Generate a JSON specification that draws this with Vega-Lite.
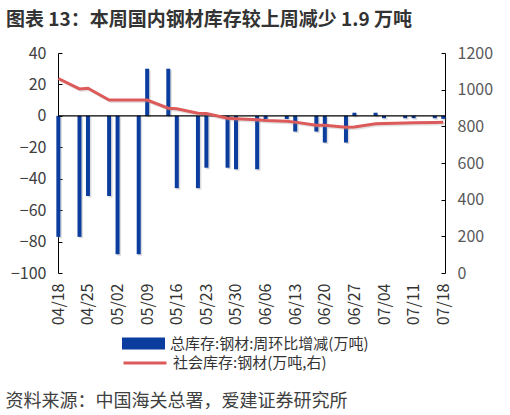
{
  "$schema": "https://vega.github.io/schema/vega-lite/v6.json",
  "width": 387,
  "height": 220,
  "autosize": "none",
  "padding": {"left": 58, "top": 53, "right": 65, "bottom": 142},
  "background": "white",
  "config": {
    "view": {"stroke": null},
    "font": "Noto Sans CJK SC",
    "axis": {"labelOverlap": false, "labelFlush": false, "grid": false, "labelFont": "Noto Sans CJK SC", "titleFont": "Noto Sans CJK SC"},
    "axisX": {"labelAngle": -90, "labelAlign": "right", "labelBaseline": "middle", "labelPadding": 10,
      "ticks": false, "domain": false, "labelFontSize": 16, "labelColor": "#333333",
      "titleX": -53, "titleY": 128, "titleAlign": "left", "titleAnchor": "start", "titleBaseline": "middle",
      "titleFontSize": 18, "titleFontWeight": "normal", "titleColor": "#404040"},
    "axisY": {"tickSize": -4, "labelPadding": 16, "domainColor": "#000000", "tickColor": "#000000", "labelFontSize": 16, "labelOverlap": false}
  },
  "title": {
    "text": "图表 13：本周国内钢材库存较上周减少 1.9 万吨",
    "anchor": "start",
    "frame": "group",
    "dx": -52,
    "offset": -4,
    "baseline": "bottom",
    "fontSize": 19,
    "fontWeight": "bold",
    "font": "Noto Sans CJK SC",
    "color": "#333333"
  },
  "data": {
    "values": [
      {"date": "2025-04-18", "change": -77, "stock": 1061},
      {"date": "2025-04-23", "change": -77, "stock": 1004},
      {"date": "2025-04-25", "change": -51, "stock": 1008},
      {"date": "2025-04-30", "change": -51, "stock": 943},
      {"date": "2025-05-02", "change": -88, "stock": 943},
      {"date": "2025-05-07", "change": -88, "stock": 943},
      {"date": "2025-05-09", "change": 30, "stock": 943},
      {"date": "2025-05-14", "change": 30, "stock": 899},
      {"date": "2025-05-16", "change": -46, "stock": 896},
      {"date": "2025-05-21", "change": -46, "stock": 872},
      {"date": "2025-05-23", "change": -33, "stock": 870},
      {"date": "2025-05-28", "change": -33, "stock": 844},
      {"date": "2025-05-30", "change": -34, "stock": 842},
      {"date": "2025-06-04", "change": -34, "stock": 836},
      {"date": "2025-06-06", "change": -2, "stock": 832},
      {"date": "2025-06-11", "change": -2, "stock": 828},
      {"date": "2025-06-13", "change": -10, "stock": 823},
      {"date": "2025-06-18", "change": -10, "stock": 806},
      {"date": "2025-06-20", "change": -17, "stock": 806},
      {"date": "2025-06-25", "change": -17, "stock": 795},
      {"date": "2025-06-27", "change": 2, "stock": 796},
      {"date": "2025-07-02", "change": 2, "stock": 814},
      {"date": "2025-07-04", "change": -1.5, "stock": 815},
      {"date": "2025-07-09", "change": -1.5, "stock": 818},
      {"date": "2025-07-11", "change": -1.5, "stock": 819},
      {"date": "2025-07-16", "change": -1.5, "stock": 821},
      {"date": "2025-07-18", "change": -1.9, "stock": 822}
    ]
  },
  "layer": [
    {
      "layer": [
        {
          "mark": {"type": "bar", "size": 4, "color": "#8a8a8a", "opacity": 0.3, "xOffset": 1.5, "yOffset": 1.5},
          "encoding": {
            "x": {"field": "date", "type": "temporal",
              "scale": {"type": "utc", "padding": 0, "domain": [{"year": 2025, "month": 4, "date": 17, "hours": 22, "utc": true}, {"year": 2025, "month": 7, "date": 18, "hours": 10, "utc": true}]},
              "axis": {"values": [1744934400000, 1745539200000, 1746144000000, 1746748800000, 1747353600000, 1747958400000, 1748563200000, 1749168000000, 1749772800000, 1750377600000, 1750982400000, 1751587200000, 1752192000000, 1752796800000],
                "format": "%m/%d", "title": "资料来源：中国海关总署，爱建证券研究所"}},
            "y": {"field": "change", "type": "quantitative", "scale": {"domain": [-100, 40], "nice": false, "zero": true},
              "axis": {"title": null, "values": [-100, -80, -60, -40, -20, 0, 20, 40], "labelColor": "#404040", "labelOverlap": false}}
          }
        },
        {
          "mark": {"type": "bar", "size": 4},
          "encoding": {
            "x": {"field": "date", "type": "temporal",
              "scale": {"type": "utc", "padding": 0, "domain": [{"year": 2025, "month": 4, "date": 17, "hours": 22, "utc": true}, {"year": 2025, "month": 7, "date": 18, "hours": 10, "utc": true}]},
              "axis": {"values": [1744934400000, 1745539200000, 1746144000000, 1746748800000, 1747353600000, 1747958400000, 1748563200000, 1749168000000, 1749772800000, 1750377600000, 1750982400000, 1751587200000, 1752192000000, 1752796800000],
                "format": "%m/%d", "title": "资料来源：中国海关总署，爱建证券研究所"}},
            "y": {"field": "change", "type": "quantitative", "scale": {"domain": [-100, 40], "nice": false, "zero": true},
              "axis": {"title": null, "values": [-100, -80, -60, -40, -20, 0, 20, 40], "labelColor": "#404040", "labelOverlap": false}},
            "color": {"datum": "总库存:钢材:周环比增减(万吨)", "scale": {"range": ["#0b3d9e"]},
              "legend": {"orient": "none", "legendX": 64, "legendY": 269, "title": null, "padding": 0,
                "symbolType": "M-1,-0.28H1V0.28H-1Z", "symbolSize": 1849, "symbolStrokeWidth": 0,
                "labelFontSize": 15, "labelColor": "#333333", "labelFont": "Noto Sans CJK SC", "labelOffset": 5, "labelLimit": 400}}
          }
        },
        {
          "data": {"values": [{"v": 0}]},
          "mark": {"type": "rule", "color": "#000000", "strokeWidth": 1.2},
          "encoding": {"y": {"field": "v", "type": "quantitative",
            "axis": {"title": null, "values": [-100, -80, -60, -40, -20, 0, 20, 40], "labelColor": "#404040", "labelOverlap": false}}}
        }
      ]
    },
    {
      "layer": [
        {
          "mark": {"type": "line", "strokeWidth": 3, "color": "#8a8a8a", "opacity": 0.25, "xOffset": 1.5, "yOffset": 1.5},
          "encoding": {
            "x": {"field": "date", "type": "temporal",
              "scale": {"type": "utc", "padding": 0, "domain": [{"year": 2025, "month": 4, "date": 17, "hours": 22, "utc": true}, {"year": 2025, "month": 7, "date": 18, "hours": 10, "utc": true}]},
              "axis": {"values": [1744934400000, 1745539200000, 1746144000000, 1746748800000, 1747353600000, 1747958400000, 1748563200000, 1749168000000, 1749772800000, 1750377600000, 1750982400000, 1751587200000, 1752192000000, 1752796800000],
                "format": "%m/%d", "title": "资料来源：中国海关总署，爱建证券研究所"}},
            "y": {"field": "stock", "type": "quantitative", "scale": {"domain": [0, 1200], "nice": false},
              "axis": {"orient": "right", "title": null, "values": [0, 200, 400, 600, 800, 1000, 1200], "format": "d", "labelColor": "#595959", "labelOverlap": false}}
          }
        },
        {
          "mark": {"type": "line", "strokeWidth": 3},
          "encoding": {
            "x": {"field": "date", "type": "temporal",
              "scale": {"type": "utc", "padding": 0, "domain": [{"year": 2025, "month": 4, "date": 17, "hours": 22, "utc": true}, {"year": 2025, "month": 7, "date": 18, "hours": 10, "utc": true}]},
              "axis": {"values": [1744934400000, 1745539200000, 1746144000000, 1746748800000, 1747353600000, 1747958400000, 1748563200000, 1749168000000, 1749772800000, 1750377600000, 1750982400000, 1751587200000, 1752192000000, 1752796800000],
                "format": "%m/%d", "title": "资料来源：中国海关总署，爱建证券研究所"}},
            "y": {"field": "stock", "type": "quantitative", "scale": {"domain": [0, 1200], "nice": false},
              "axis": {"orient": "right", "title": null, "values": [0, 200, 400, 600, 800, 1000, 1200], "format": "d", "labelColor": "#595959", "labelOverlap": false}},
            "stroke": {"datum": "社会库存:钢材(万吨,右)", "scale": {"range": ["#dd5a5a"]},
              "legend": {"orient": "none", "legendX": 64, "legendY": 287, "title": null, "padding": 0,
                "symbolType": "stroke", "symbolSize": 1849, "symbolStrokeWidth": 3,
                "labelFontSize": 15, "labelColor": "#333333", "labelFont": "Noto Sans CJK SC", "labelOffset": 5, "labelLimit": 400}}
          }
        }
      ]
    }
  ],
  "resolve": {"scale": {"y": "independent"}}
}
